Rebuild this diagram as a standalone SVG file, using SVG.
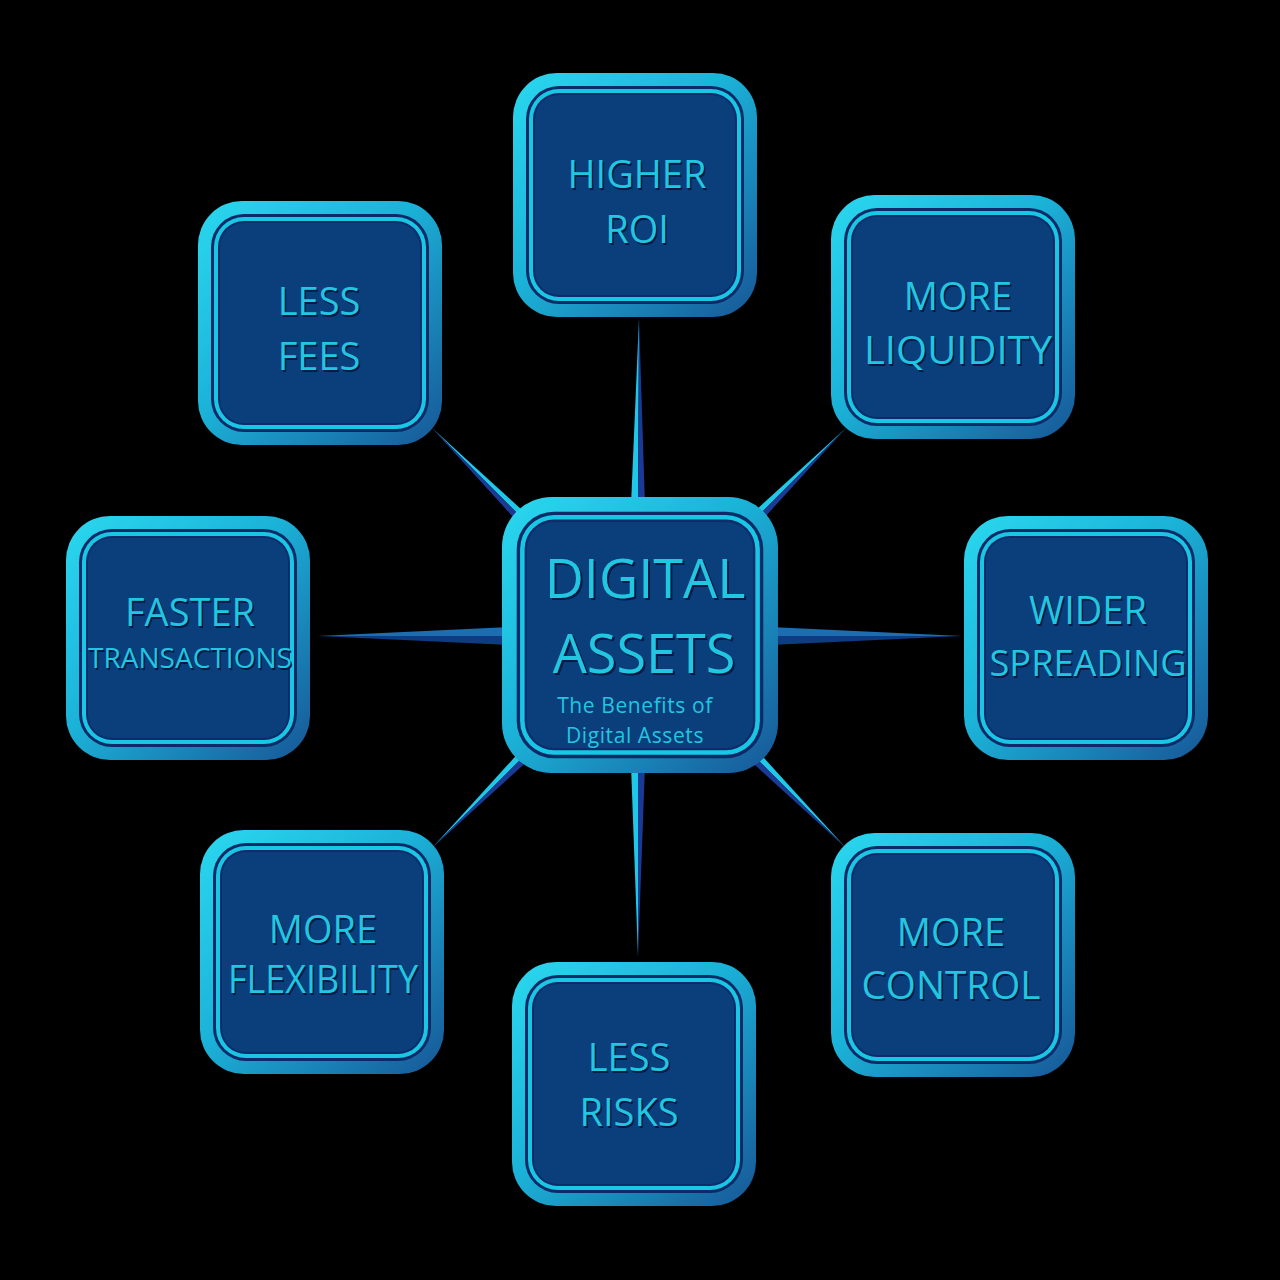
<svg xmlns="http://www.w3.org/2000/svg" width="1280" height="1280" viewBox="0 0 1280 1280">
<defs>
<linearGradient id="bevel" x1="0" y1="0" x2="1" y2="1">
<stop offset="0" stop-color="#2bd8ef"/>
<stop offset="0.45" stop-color="#1bb2d8"/>
<stop offset="1" stop-color="#175696"/>
</linearGradient>
<g id="tile">
<rect x="0" y="0" width="244" height="244" rx="44" fill="url(#bevel)"/>
<rect x="13" y="13" width="218" height="218" rx="33" fill="#0b2a68"/>
<rect x="16" y="16" width="212" height="212" rx="30" fill="#19c7e5"/>
<rect x="20" y="20" width="204" height="204" rx="26" fill="#0c2c6c"/>
<rect x="22" y="22" width="200" height="200" rx="24" fill="#0a3f7b"/>
</g>
</defs>
<style>
.t{font-family:"Open Sans","Noto Sans","DejaVu Sans",sans-serif;text-anchor:middle;fill:#22c6e0}
.s{font-family:"Open Sans","Noto Sans","DejaVu Sans",sans-serif;text-anchor:middle;fill:#061a48}
.big{font-size:38px}
.huge{font-size:54px}
.sm{font-size:21px;letter-spacing:0.6px}
.cy{fill:#1ec8e6}
.nv{fill:#1b3a96}
.lb{fill:#1e6db0}
.db{fill:#0e3c82}
</style>
<rect x="0" y="0" width="1280" height="1280" fill="#000000"/>
<g id="connectors">
<polygon class="cy" points="639,318 631,505 638,505"/>
<polygon class="nv" points="639,318 638,505 645,505"/>
<polygon class="cy" points="638,957 631,765 638,765"/>
<polygon class="nv" points="638,957 638,765 645,765"/>
<polygon class="lb" points="318,636 510,627 510,636"/>
<polygon class="db" points="318,636 510,636 510,645"/>
<polygon class="lb" points="962,636 770,627 770,636"/>
<polygon class="db" points="962,636 770,636 770,645"/>
<polygon class="cy" points="432,428 526.2,513.8 522,518"/>
<polygon class="nv" points="432,428 522,518 517.8,522.2"/>
<polygon class="cy" points="846,428 751.8,513.8 756,518"/>
<polygon class="nv" points="846,428 756,518 760.2,522.2"/>
<polygon class="cy" points="432,848 517.8,753.8 522,758"/>
<polygon class="nv" points="432,848 522,758 526.2,762.2"/>
<polygon class="cy" points="846,848 760.2,753.8 756,758"/>
<polygon class="nv" points="846,848 756,758 751.8,762.2"/>
</g>
<g id="node-higher-roi">
<use href="#tile" x="513" y="73"/>
<text class="s big" x="638.5" y="189.5">HIGHER</text>
<text class="t big" x="637" y="188">HIGHER</text>
<text class="s big" x="638.5" y="244.5">ROI</text>
<text class="t big" x="637" y="243">ROI</text>
</g>
<g id="node-less-fees">
<use href="#tile" x="198" y="201"/>
<text class="s big" x="320.5" y="316.5">LESS</text>
<text class="t big" x="319" y="315">LESS</text>
<text class="s big" x="320.5" y="371.5">FEES</text>
<text class="t big" x="319" y="370">FEES</text>
</g>
<g id="node-more-liquidity">
<use href="#tile" x="831" y="195"/>
<text class="s big" x="959.5" y="311.5">MORE</text>
<text class="t big" x="958" y="310">MORE</text>
<text class="s big" x="959.5" y="365.5" textLength="188" lengthAdjust="spacingAndGlyphs">LIQUIDITY</text>
<text class="t big" x="958" y="364" textLength="188" lengthAdjust="spacingAndGlyphs">LIQUIDITY</text>
</g>
<g id="node-faster-transactions">
<use href="#tile" x="66" y="516"/>
<text class="s big" x="191.5" y="627.5">FASTER</text>
<text class="t big" x="190" y="626">FASTER</text>
<text class="s" x="191.5" y="669.5" font-size="27.5" textLength="204" lengthAdjust="spacingAndGlyphs">TRANSACTIONS</text>
<text class="t" x="190" y="668" font-size="27.5" textLength="204" lengthAdjust="spacingAndGlyphs">TRANSACTIONS</text>
</g>
<g id="node-wider-spreading">
<use href="#tile" x="964" y="516"/>
<text class="s big" x="1089.5" y="625.5">WIDER</text>
<text class="t big" x="1088" y="624">WIDER</text>
<text class="s" x="1089.5" y="677.5" font-size="37" textLength="197" lengthAdjust="spacingAndGlyphs">SPREADING</text>
<text class="t" x="1088" y="676" font-size="37" textLength="197" lengthAdjust="spacingAndGlyphs">SPREADING</text>
</g>
<g id="node-more-flexibility">
<use href="#tile" x="200" y="830"/>
<text class="s big" x="324.5" y="944.5">MORE</text>
<text class="t big" x="323" y="943">MORE</text>
<text class="s big" x="324.5" y="994.5" textLength="190" lengthAdjust="spacingAndGlyphs">FLEXIBILITY</text>
<text class="t big" x="323" y="993" textLength="190" lengthAdjust="spacingAndGlyphs">FLEXIBILITY</text>
</g>
<g id="node-less-risks">
<use href="#tile" x="512" y="962"/>
<text class="s big" x="630.5" y="1072.5">LESS</text>
<text class="t big" x="629" y="1071">LESS</text>
<text class="s big" x="630.5" y="1127.5">RISKS</text>
<text class="t big" x="629" y="1126">RISKS</text>
</g>
<g id="node-more-control">
<use href="#tile" x="831" y="833"/>
<text class="s big" x="952.5" y="947.5">MORE</text>
<text class="t big" x="951" y="946">MORE</text>
<text class="s big" x="952.5" y="1000.5" textLength="179" lengthAdjust="spacingAndGlyphs">CONTROL</text>
<text class="t big" x="951" y="999" textLength="179" lengthAdjust="spacingAndGlyphs">CONTROL</text>
</g>
<g id="node-digital-assets">
<use href="#tile" transform="translate(502,497) scale(1.131)"/>
<text class="s huge" x="647" y="600">DIGITAL</text>
<text class="t huge" x="645" y="598">DIGITAL</text>
<text class="s huge" x="646" y="675">ASSETS</text>
<text class="t huge" x="644" y="673">ASSETS</text>
<text class="t sm" x="635" y="713">The Benefits of</text>
<text class="t sm" x="635" y="743">Digital Assets</text>
</g>
</svg>
